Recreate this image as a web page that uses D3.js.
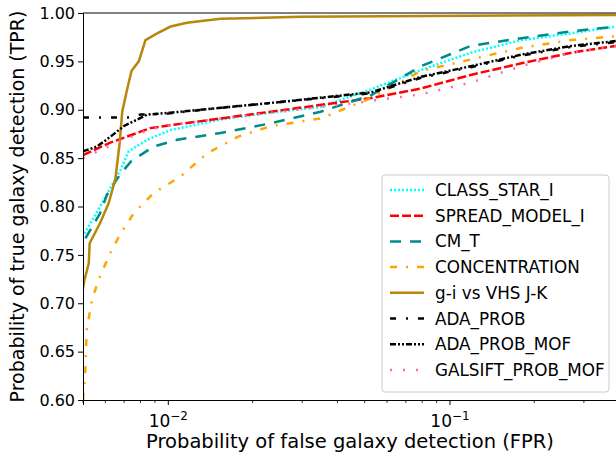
<!DOCTYPE html>
<html><head><meta charset="utf-8">
<script src="https://cdn.jsdelivr.net/npm/d3@7"></script>
<style>body{margin:0;background:#fff}text{font-family:"DejaVu Sans",sans-serif}</style>
</head><body><svg id="chart" width="616" height="455"></svg>
<script>
// [FPR, TPR] pairs
const classStar = [[0.00506,0.772],[0.00575,0.800],[0.00680,0.838],[0.00726,0.857],[0.00845,0.869],[0.01023,0.879],[0.0154,0.890],[0.0232,0.897],[0.0349,0.903],[0.0526,0.921],[0.0792,0.941],[0.119,0.959],[0.180,0.972],[0.271,0.979],[0.39,0.986]];
const spreadModel = [[0.0050,0.853],[0.00625,0.866],[0.00867,0.881],[0.01023,0.884],[0.0154,0.891],[0.0232,0.898],[0.0526,0.912],[0.0792,0.922],[0.119,0.936],[0.180,0.948],[0.271,0.959],[0.39,0.966]];
const cmT = [[0.00510,0.767],[0.00575,0.793],[0.00608,0.812],[0.00680,0.834],[0.00743,0.847],[0.00891,0.862],[0.0108,0.869],[0.0154,0.876],[0.0232,0.886],[0.0349,0.898],[0.0526,0.915],[0.0792,0.945],[0.119,0.966],[0.180,0.974],[0.271,0.981],[0.39,0.986]];
const concentration = [[0.00500,0.600],[0.00510,0.631],[0.00515,0.672],[0.00538,0.703],[0.00567,0.724],[0.00625,0.752],[0.00680,0.772],[0.00757,0.793],[0.00891,0.814],[0.0111,0.831],[0.0138,0.855],[0.0177,0.872],[0.0232,0.883],[0.0349,0.891],[0.0526,0.912],[0.0792,0.940],[0.119,0.952],[0.180,0.964],[0.271,0.972],[0.39,0.976]];
const giVhs = [[0.00500,0.715],[0.00506,0.724],[0.00524,0.741],[0.00528,0.762],[0.00575,0.783],[0.00616,0.803],[0.00651,0.828],[0.00675,0.866],[0.00689,0.898],[0.00717,0.921],[0.00743,0.940],[0.00789,0.950],[0.00833,0.972],[0.00917,0.979],[0.01023,0.986],[0.0117,0.990],[0.0134,0.992],[0.0154,0.994],[0.0296,0.996],[0.39,0.998]];
const adaProb = [[0.0050,0.892],[0.0072,0.892],[0.0080,0.895],[0.0100,0.896],[0.0154,0.902],[0.0232,0.907],[0.0526,0.917],[0.0792,0.933],[0.119,0.944],[0.180,0.956],[0.271,0.965],[0.39,0.970]];
const adaProbMof = [[0.0050,0.857],[0.00561,0.862],[0.00625,0.872],[0.00697,0.883],[0.00845,0.895],[0.01023,0.897],[0.0154,0.902],[0.0232,0.907],[0.0526,0.918],[0.0792,0.934],[0.119,0.945],[0.180,0.957],[0.271,0.966],[0.39,0.971]];
const galsift = [[0.0050,0.850],[0.00625,0.863],[0.00867,0.880],[0.01023,0.884],[0.0154,0.891],[0.0232,0.897],[0.0526,0.909],[0.0792,0.916],[0.119,0.928],[0.180,0.945],[0.271,0.959],[0.39,0.966]];
const yTicks = [0.60,0.65,0.70,0.75,0.80,0.85,0.90,0.95,1.00];

const series = [
  {name:"CLASS_STAR_I", data:classStar, color:"#00ffff", dash:"2,2"},
  {name:"SPREAD_MODEL_I", data:spreadModel, color:"#ff0000", dash:"9,3"},
  {name:"CM_T", data:cmT, color:"#008b8b", dash:"11,9"},
  {name:"CONCENTRATION", data:concentration, color:"#ffa500", dash:"7,9,2,9"},
  {name:"g-i vs VHS J-K", data:giVhs, color:"#b8860b", dash:null},
  {name:"ADA_PROB", data:adaProb, color:"#000000", dash:"6,10,2,10"},
  {name:"ADA_PROB_MOF", data:adaProbMof, color:"#000000", dash:"6,2,2,2,2,2"},
  {name:"GALSIFT_PROB_MOF", data:galsift, color:"#ff69b4", dash:"2,11"}
];

const svg = d3.select('#chart');
const mLeft = 83, mTop = 13, mRight = 616, mBottom = 400;
const x = d3.scaleLog().domain([0.005, 0.39]).range([mLeft, mRight]);
const y = d3.scaleLinear().domain([0.6, 1.0]).range([mBottom, mTop]);

svg.append('clipPath').attr('id','clip').append('rect')
  .attr('x', mLeft).attr('y', mTop).attr('width', mRight-mLeft).attr('height', mBottom-mTop);

const line = d3.line().x(d => x(d[0])).y(d => y(d[1]));
svg.append('g').attr('clip-path','url(#clip)').selectAll('path')
  .data(series).join('path')
  .attr('d', d => line(d.data))
  .attr('fill','none').attr('stroke', d => d.color).attr('stroke-width', 2.5)
  .attr('stroke-dasharray', d => d.dash);

// axes
const xAxis = svg.append('g').attr('transform', `translate(0,${mBottom})`)
  .call(d3.axisBottom(x).tickValues([0.01, 0.1]).tickSize(5).tickFormat(() => ''));
xAxis.selectAll('.tick').append('text').attr('y', 27).attr('fill','#000')
  .attr('text-anchor','middle').style('font-size','17px')
  .html(d => d === 0.01 ? '10<tspan dy="-7" font-size="12">−2</tspan>' : '10<tspan dy="-7" font-size="12">−1</tspan>');
const minor = [];
for (const base of [0.001, 0.01, 0.1]) for (let k = 2; k <= 9; k++) {
  const v = base*k; if (v >= 0.005 && v <= 0.39) minor.push(v);
}
svg.append('g').selectAll('line').data(minor).join('line')
  .attr('x1', d => x(d)).attr('x2', d => x(d)).attr('y1', mBottom).attr('y2', mBottom+3)
  .attr('stroke','#000').attr('stroke-width',0.8);

const yAxis = svg.append('g').attr('transform', `translate(${mLeft},0)`)
  .call(d3.axisLeft(y).tickValues(yTicks).tickSize(5).tickFormat(d3.format('.2f')));
yAxis.selectAll('text').style('font-size','16px').attr('fill','#000');
svg.selectAll('.domain').attr('stroke','#000').attr('stroke-width',1);
svg.append('line').attr('x1',mLeft).attr('x2',mRight).attr('y1',mTop).attr('y2',mTop).attr('stroke','#000');

svg.append('text').attr('x', 350).attr('y', 448).attr('text-anchor','middle')
  .style('font-size','19.5px').text('Probability of false galaxy detection (FPR)');
svg.append('text').attr('transform', `translate(24,${(mTop+mBottom)/2}) rotate(-90)`)
  .attr('text-anchor','middle').style('font-size','19px').text('Probability of true galaxy detection (TPR)');

// legend
const lg = svg.append('g').attr('transform','translate(382,175)');
lg.append('rect').attr('width',227).attr('height',217).attr('rx',3)
  .attr('fill','#fff').attr('fill-opacity',0.85).attr('stroke','#ccc');
const rows = lg.selectAll('g.row').data(series).join('g')
  .attr('transform', (d,i) => `translate(0,${15 + i*25.7})`);
rows.append('line').attr('x1',8).attr('x2',42).attr('y1',0).attr('y2',0)
  .attr('stroke', d => d.color).attr('stroke-width',2.5).attr('stroke-dasharray', d => d.dash);
rows.append('text').attr('x',53).attr('y',6).style('font-size','16.8px').text(d => d.name);
</script></body></html>
